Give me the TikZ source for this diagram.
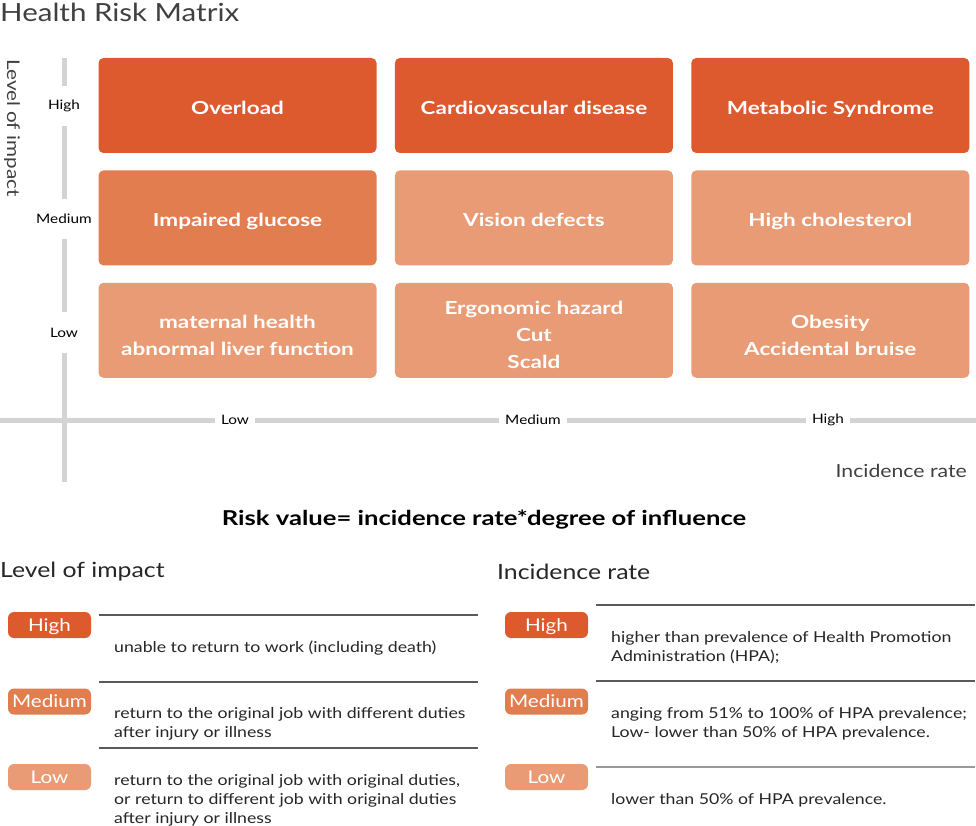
\documentclass[tikz,border=0pt]{standalone}
\usepackage{xcolor}
\usepackage{fontspec}
\setmainfont{Lato}[FakeStretch=1.18, BoldFeatures={FakeStretch=1.25}]
\usepackage{tikz}
\usetikzlibrary{
    positioning
}

\definecolor{riskhigh}{RGB}{220,90,46}
\definecolor{riskmed}{RGB}{226,125,80}
\definecolor{risklow}{RGB}{232,155,116}
\definecolor{axisgray}{RGB}{211,211,211}
\definecolor{titlegray}{RGB}{64,64,64}
\definecolor{rulegray}{RGB}{90,90,90}

\begin{document}
\begin{tikzpicture}[
x=1pt, y=-1pt,
node distance=17pt and 18pt,
cell/.style={
rounded corners=5pt,
minimum width=278pt,
minimum height=95pt,
inner sep=0pt,
align=center,
text=white,
text height=24pt,
text depth=6pt,
font=\fontsize{18}{27}\selectfont\bfseries
},
two lines/.style={text height=56pt},
three lines/.style={text height=82pt},
tick/.style={
inner sep=0pt,
font=\fontsize{13}{15}\selectfont
},
axisline/.style={
axisgray,
line width=5pt
},
badge/.style={
rounded corners=6pt,
minimum width=83pt,
minimum height=26pt,
inner sep=0pt,
text height=14pt,
text depth=1.5pt,
text=white,
font=\fontsize{17.5}{20}\selectfont
},
desc/.style={
anchor=west,
inner sep=0pt,
align=left,
text=black!85,
font=\fontsize{15}{19}\selectfont
},
rule/.style={
rulegray,
line width=1.2pt
}
]
\useasboundingbox (0,0) rectangle (976,826);

% title
\node[anchor=west, inner sep=0pt, text=titlegray,
font=\fontsize{25}{28}\selectfont] (title) at (0,12)
{Health Risk Matrix};

% matrix cells
\node[cell, fill=riskhigh] (overload) at (237.5,105.5)
{Overload};
\node[cell, fill=riskhigh, right=of overload] (cardio)
{Cardiovascular disease};
\node[cell, fill=riskhigh, right=of cardio] (metabolic)
{Metabolic Syndrome};

\node[cell, fill=riskmed, below=of overload] (glucose)
{Impaired glucose};
\node[cell, fill=risklow, below=of cardio] (vision)
{Vision defects};
\node[cell, fill=risklow, below=of metabolic] (cholesterol)
{High cholesterol};

\node[cell, two lines, fill=risklow, below=of glucose] (maternal)
{maternal health\\abnormal liver function};
\node[cell, three lines, fill=risklow, below=of vision] (ergonomic)
{Ergonomic hazard\\Cut\\Scald};
\node[cell, two lines, fill=risklow, below=of cholesterol] (obesity)
{Obesity\\Accidental bruise};

% vertical axis
\coordinate (vtop) at (64,58);
\coordinate (vbot) at (64,482);
\node[tick, minimum height=40pt] (yhigh) at (64,106) {High};
\node[tick, minimum height=40pt] (ymed) at (64,219) {Medium};
\node[tick, minimum height=41pt] (ylow) at (64,332.5) {Low};

\draw[axisline] (vtop) -- (yhigh.north);
\draw[axisline] (yhigh.south) -- (ymed.north);
\draw[axisline] (ymed.south) -- (ylow.north);
\draw[axisline] (ylow.south) -- (vbot);

% horizontal axis
\coordinate (hleft) at (0,420);
\coordinate (hright) at (976,420);
\node[tick, inner xsep=6pt] (xlow) at (235,420) {Low};
\node[tick, inner xsep=6pt] (xmed) at (533,420) {Medium};
\node[tick, inner xsep=6pt] (xhigh) at (828,420) {High};

\draw[axisline] (hleft) -- (xlow.west);
\draw[axisline] (xlow.east) -- (xmed.west);
\draw[axisline] (xmed.east) -- (xhigh.west);
\draw[axisline] (xhigh.east) -- (hright);

% axis titles
\node[rotate=-90, inner sep=0pt, text=titlegray,
font=\fontsize{17.5}{22}\selectfont] (ytitle) at (12,128)
{Level of impact};
\node[anchor=east, inner sep=0pt, text=titlegray,
font=\fontsize{18}{22}\selectfont] (xtitle) at (967,471)
{Incidence rate};

\node[inner sep=0pt, font=\fontsize{20.5}{24}\selectfont\bfseries]
(formula) at (484,520)
{Risk value= incidence rate*degree of influence};

% legend: level of impact
\node[anchor=west, inner sep=0pt, text=black!85,
font=\fontsize{21}{26}\selectfont] (impacthead) at (0,572)
{Level of impact};

\node[badge, fill=riskhigh] (ihigh) at (49.5,625) {High};
\node[badge, fill=riskmed] (imed) at (49.5,701.5) {Medium};
\node[badge, fill=risklow] (ilow) at (49.5,777) {Low};

\draw[rule] (99,615) -- (478,615);
\draw[rule] (99,682) -- (478,682);
\draw[rule] (99,748) -- (478,748);

\node[desc] (ihightext) at (114,648)
{unable to return to work (including death)};
\node[desc] (imedtext) at (114,723.5)
{return to the original job with different duties\\after injury or illness};
\node[desc] (ilowtext) at (114,800)
{return to the original job with original duties,\\or return to different job with original duties\\after injury or illness};

% legend: incidence rate
\node[anchor=west, inner sep=0pt, text=black!85,
font=\fontsize{21}{26}\selectfont] (ratehead) at (497,572)
{Incidence rate};

\node[badge, fill=riskhigh] (rhigh) at (546.5,625) {High};
\node[badge, fill=riskmed] (rmed) at (546.5,701.5) {Medium};
\node[badge, fill=risklow] (rlow) at (546.5,777) {Low};

\draw[rule] (596,605) -- (975,605);
\draw[rule] (596,681) -- (975,681);
\draw[rule, black!40, line width=2pt] (596,767) -- (975,767);

\node[desc] (rhightext) at (611,648)
{higher than prevalence of Health Promotion\\Administration (HPA);};
\node[desc] (rmedtext) at (611,723.5)
{anging from 51\% to 100\% of HPA prevalence;\\Low- lower than 50\% of HPA prevalence.};
\node[desc] (rlowtext) at (611,800)
{lower than 50\% of HPA prevalence.};

\end{tikzpicture}
\end{document}
